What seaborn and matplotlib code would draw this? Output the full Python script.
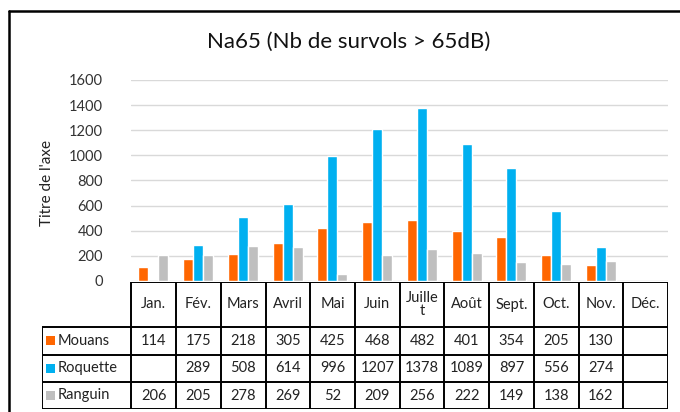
import matplotlib
matplotlib.use("Agg")
import matplotlib.pyplot as plt
import seaborn as sns
import pandas as pd
import numpy as np

mois = ["Jan.", "Fév.", "Mars", "Avril", "Mai", "Juin", "Juille\nt", "Août",
        "Sept.", "Oct.", "Nov.", "Déc."]
mouans = [114, 175, 218, 305, 425, 468, 482, 401, 354, 205, 130, np.nan]
roquette = [np.nan, 289, 508, 614, 996, 1207, 1378, 1089, 897, 556, 274, np.nan]
ranguin = [206, 205, 278, 269, 52, 209, 256, 222, 149, 138, 162, np.nan]
stations = ["Mouans", "Roquette", "Ranguin"]
couleurs = ["#FF6600", "#00B0F0", "#BFBFBF"]
yticks = [0, 200, 400, 600, 800, 1000, 1200, 1400, 1600]

df = pd.DataFrame({"mois": mois, "Mouans": mouans, "Roquette": roquette, "Ranguin": ranguin})
long = df.melt(id_vars="mois", var_name="station", value_name="valeur")

sns.set_theme(style="white")
plt.rcParams["font.family"] = ["Lato", "DejaVu Sans"]

W, H = 680, 412
fig = plt.figure(figsize=(W / 100, H / 100), dpi=100)

# zone du graphique (pixels -> fraction)
ax = fig.add_axes([131 / W, (H - 281) / H, (668 - 131) / W, (281 - 80) / H])
sns.barplot(data=long, x="mois", y="valeur", hue="station", order=mois,
            hue_order=stations, palette=couleurs, width=0.67, saturation=1,
            errorbar=None, ax=ax, legend=False)
ax.set_xlim(-0.5, len(mois) - 0.5)
ax.set_ylim(0, 1600)
ax.set_yticks(yticks)
ax.set_yticklabels([str(t) for t in yticks], fontsize=10.5, color="#333333")
ax.tick_params(axis="y", length=0, pad=20)
ax.set_xticks([])
ax.set_xlabel("")
ax.set_ylabel("Titre de l'axe", fontsize=11, color="#222222")
ax.yaxis.set_label_coords((54 - 131) / (668 - 131), (281 - 183) / (281 - 80))
ax.yaxis.grid(True, color="#D9D9D9", linewidth=1)
ax.set_axisbelow(True)
for s in ax.spines.values():
    s.set_visible(False)

fig.text(349 / W, 1 - 42 / H, "Na65 (Nb de survols > 65dB)", ha="center", va="center",
         fontsize=16, color="#111111")

# tableau de données sous le graphique
tax = fig.add_axes([42 / W, (H - 409) / H, (668 - 42) / W, (409 - 282) / H])
tax.set_xlim(-2.5, len(mois) - 0.5)
tax.set_ylim(409, 282)
tax.axis("off")
lw = 1.4
y_head, y_rows = 282, [327, 354.5, 382, 409]
n = len(mois)
# lignes horizontales
tax.hlines([y_head], -0.5, n - 0.5, color="black", lw=lw)
tax.hlines(y_rows, -2.5, n - 0.5, color="black", lw=lw)
# lignes verticales
tax.vlines(np.arange(-0.5, n), y_head, y_rows[-1], color="black", lw=lw)
tax.vlines([-2.5], y_rows[0], y_rows[-1], color="black", lw=lw)

for i, m in enumerate(mois):
    tax.text(i, (y_head + y_rows[0]) / 2, m, ha="center", va="center", fontsize=10.5,
             color="#222222", linespacing=0.95)

series = [mouans, roquette, ranguin]
for r, (nom, vals, c) in enumerate(zip(stations, series, couleurs)):
    yc = (y_rows[r] + y_rows[r + 1]) / 2
    tax.add_patch(plt.Rectangle((-2.4, yc - 4.5), 0.2, 9, color=c, lw=0))
    tax.text(-2.15, yc, nom, ha="left", va="center", fontsize=10.5, color="#222222")
    for i, v in enumerate(vals):
        if not np.isnan(v):
            tax.text(i, yc, f"{int(v)}", ha="center", va="center", fontsize=10.5,
                     color="#222222")

# cadre du graphique (haut et gauche)
fig.add_artist(plt.Line2D([9 / W, 9 / W], [0, 1 - 11 / H], color="black", lw=1.8))
fig.add_artist(plt.Line2D([9 / W, 1], [1 - 11 / H, 1 - 11 / H], color="black", lw=1.8))

fig.savefig("out.png", dpi=100)
